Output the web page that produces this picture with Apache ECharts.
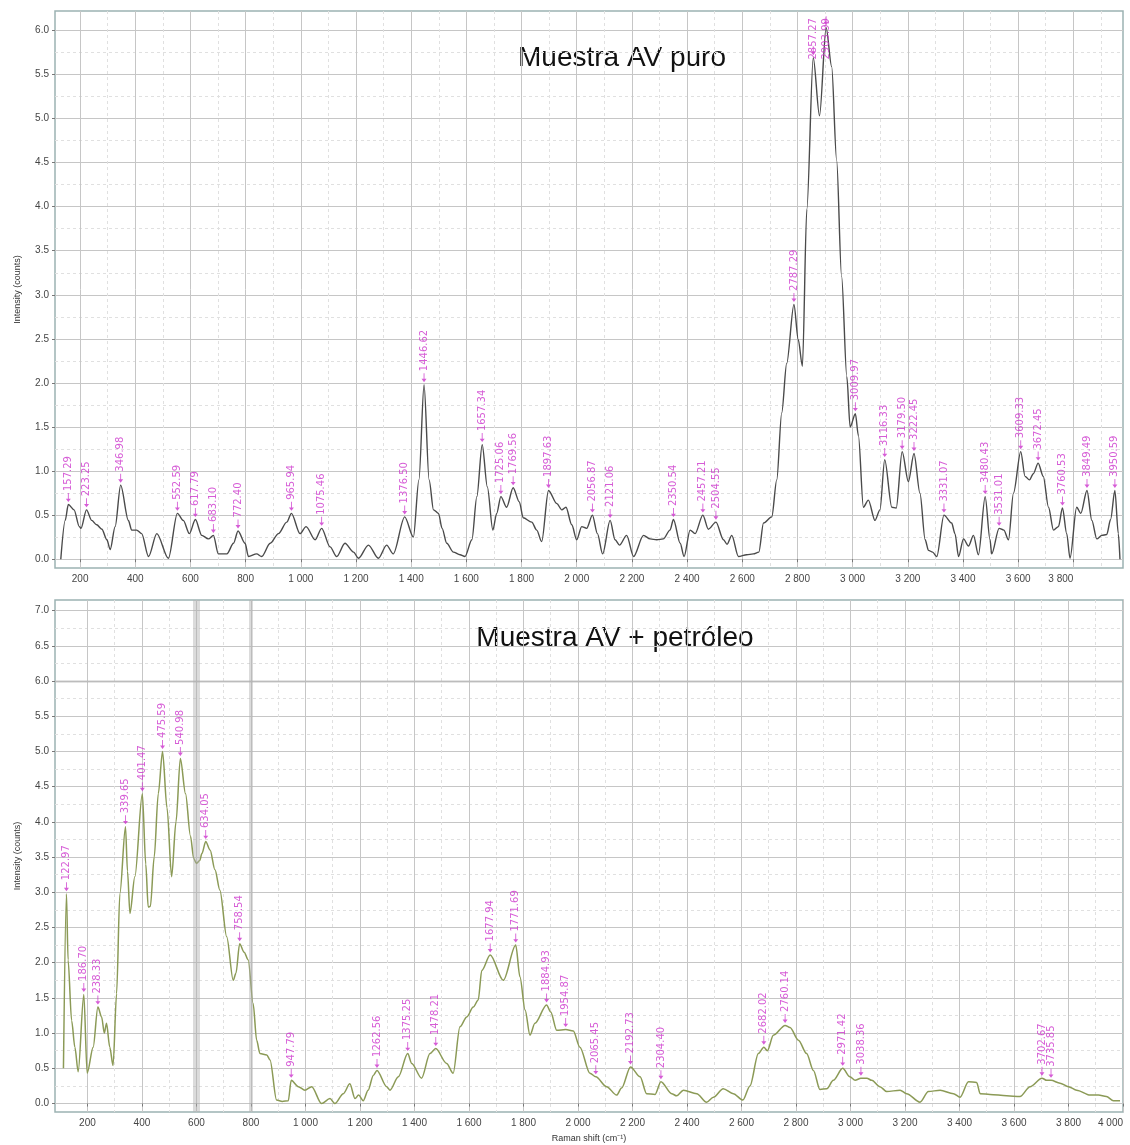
<!DOCTYPE html>
<html>
<head>
<meta charset="utf-8">
<script src="https://cdn.jsdelivr.net/npm/echarts@6/dist/echarts.min.js"></script>
<style>
  html, body { margin: 0; padding: 0; background: #ffffff; }
  #chart { width: 1130px; height: 1145px; }
</style>
</head>
<body>
<div id="chart"></div>
<script>
// Raman spectrum of the pure sample: shift (cm-1) and intensity (counts)
const puroShift = [
  130, 146, 157.29, 178, 197, 203, 223.25, 242, 260, 279,
  297, 309, 327, 346.98, 375, 387, 405, 423, 448, 478,
  520, 552.59, 574, 596, 617.79, 641, 665, 683.10, 701, 732,
  756, 772.40, 798, 810, 840, 858, 889, 919, 949, 965.94,
  997, 1019, 1052, 1075.46, 1106, 1130, 1160, 1191, 1209, 1245,
  1281, 1311, 1335, 1376.50, 1408, 1428, 1446.62, 1465, 1481, 1499,
  1512, 1529, 1553, 1577, 1595, 1620, 1638, 1657.34, 1676, 1696,
  1710, 1725.06, 1746, 1769.56, 1792, 1806, 1837, 1855, 1873, 1897.63,
  1928, 1946, 1961, 1982, 2000, 2018, 2036, 2056.87, 2075, 2094,
  2121.06, 2139, 2155, 2181, 2206, 2242, 2266, 2290, 2314, 2338,
  2350.54, 2375, 2389, 2411, 2429, 2457.21, 2477, 2504.55, 2532, 2545,
  2562, 2586, 2616, 2640, 2660, 2677, 2707, 2725, 2743, 2761,
  2787.29, 2803, 2818, 2834, 2857.27, 2880, 2903.99, 2924, 2942, 2960,
  2979, 2991, 3009.97, 3021, 3039, 3057, 3081, 3099, 3116.33, 3142,
  3158, 3179.50, 3202, 3222.45, 3244, 3263, 3275, 3290, 3305, 3331.07,
  3359, 3371, 3384, 3402, 3420, 3438, 3456, 3480.43, 3498, 3504,
  3531.01, 3548, 3565, 3583, 3609.33, 3625, 3641, 3655, 3672.45, 3691,
  3710, 3728, 3746, 3760.53, 3776, 3788, 3812, 3827, 3849.49, 3867,
  3885, 3903, 3921, 3935, 3950.59, 3963, 3969
];
const puroIntensity = [
  0.00, 0.44, 0.62, 0.56, 0.37, 0.35, 0.56, 0.44, 0.39, 0.34,
  0.22, 0.11, 0.37, 0.84, 0.44, 0.33, 0.33, 0.29, 0.03, 0.29,
  0.01, 0.52, 0.44, 0.29, 0.45, 0.27, 0.23, 0.27, 0.06, 0.06,
  0.18, 0.32, 0.18, 0.03, 0.06, 0.03, 0.18, 0.29, 0.42, 0.52,
  0.29, 0.37, 0.22, 0.35, 0.14, 0.03, 0.18, 0.08, 0.01, 0.16,
  0.01, 0.16, 0.06, 0.48, 0.25, 0.90, 1.98, 0.90, 0.56, 0.52,
  0.35, 0.18, 0.08, 0.05, 0.03, 0.22, 0.71, 1.30, 0.82, 0.33,
  0.52, 0.71, 0.59, 0.81, 0.65, 0.47, 0.42, 0.33, 0.20, 0.78,
  0.63, 0.56, 0.59, 0.39, 0.22, 0.37, 0.35, 0.50, 0.29, 0.06,
  0.44, 0.22, 0.16, 0.27, 0.03, 0.27, 0.23, 0.22, 0.23, 0.33,
  0.45, 0.18, 0.03, 0.33, 0.29, 0.50, 0.34, 0.42, 0.22, 0.17,
  0.27, 0.03, 0.05, 0.06, 0.08, 0.41, 0.48, 0.90, 1.66, 2.22,
  2.89, 2.49, 2.19, 3.97, 5.69, 5.03, 6.03, 5.59, 4.53, 3.21,
  2.07, 1.50, 1.65, 1.40, 0.59, 0.67, 0.44, 0.56, 1.13, 0.59,
  0.58, 1.22, 0.88, 1.20, 0.75, 0.22, 0.10, 0.08, 0.03, 0.50,
  0.41, 0.29, 0.03, 0.23, 0.15, 0.27, 0.05, 0.71, 0.22, 0.06,
  0.35, 0.33, 0.22, 0.75, 1.22, 0.94, 0.90, 0.97, 1.09, 0.94,
  0.59, 0.33, 0.37, 0.58, 0.29, 0.01, 0.59, 0.52, 0.78, 0.44,
  0.23, 0.27, 0.28, 0.45, 0.78, 0.29, 0.00
];
// Marked band positions (cm-1) of the pure sample
const puroPeaks = [
  157.29, 223.25, 346.98, 552.59, 617.79, 683.10, 772.40, 965.94, 1075.46,
  1376.50, 1446.62, 1657.34, 1725.06, 1769.56, 1897.63, 2056.87, 2121.06,
  2350.54, 2457.21, 2504.55, 2787.29, 2857.27, 2903.99, 3009.97, 3116.33,
  3179.50, 3222.45, 3331.07, 3480.43, 3531.01, 3609.33, 3672.45, 3760.53,
  3849.49, 3950.59
];

// Raman spectrum of the sample with petroleum
const petShift = [
  112, 122.97, 129, 142, 154, 166, 186.70, 199, 221, 238.33,
  252, 262, 270, 282, 294, 307, 319, 339.65, 347, 356,
  374, 401.47, 414, 423, 431, 445, 460, 475.59, 492, 509,
  525, 540.98, 560, 578, 590, 600, 612, 620, 634.05, 650,
  668, 686, 711, 735, 745, 758.54, 775, 790, 808, 821,
  833, 858, 870, 894, 915, 937, 947.79, 974, 998, 1023,
  1059, 1090, 1108, 1139, 1163, 1182, 1195, 1212, 1230, 1249,
  1262.56, 1298, 1310, 1341, 1375.25, 1390, 1426, 1457, 1478.21, 1518,
  1542, 1567, 1592, 1616, 1634, 1647, 1677.94, 1726, 1771.69, 1787,
  1806, 1824, 1842, 1884.93, 1900, 1922, 1954.87, 1983, 2007, 2044,
  2065.45, 2105, 2142, 2160, 2192.73, 2228, 2252, 2283, 2304.40, 2344,
  2362, 2387, 2436, 2472, 2497, 2533, 2570, 2605, 2631, 2662,
  2682.02, 2695, 2717, 2760.14, 2778, 2809, 2839, 2864, 2888, 2913,
  2937, 2971.42, 2998, 3017, 3038.36, 3060, 3078, 3108, 3133, 3182,
  3206, 3255, 3286, 3329, 3378, 3402, 3433, 3463, 3476, 3512,
  3573, 3622, 3659, 3702.67, 3720, 3735.85, 3769, 3800, 3830, 3879,
  3910, 3939, 3965, 3989
];
const petIntensity = [
  0.50, 2.98, 2.04, 1.18, 0.80, 0.45, 1.55, 0.43, 0.80, 1.37,
  1.23, 1.00, 1.14, 0.80, 0.54, 1.56, 2.98, 3.93, 3.30, 2.70,
  3.22, 4.40, 3.40, 2.79, 2.80, 3.50, 4.40, 5.00, 4.20, 3.22,
  4.00, 4.90, 4.40, 3.80, 3.48, 3.41, 3.45, 3.55, 3.72, 3.60,
  3.32, 3.03, 2.37, 1.75, 1.85, 2.27, 2.15, 2.04, 1.42, 0.90,
  0.71, 0.69, 0.62, 0.05, 0.03, 0.04, 0.33, 0.24, 0.19, 0.24,
  0.00, 0.07, 0.00, 0.14, 0.28, 0.07, 0.12, 0.04, 0.19, 0.40,
  0.47, 0.24, 0.19, 0.38, 0.71, 0.57, 0.36, 0.71, 0.78, 0.57,
  0.43, 1.09, 1.23, 1.37, 1.47, 1.89, 2.11, 1.75, 2.25, 1.80,
  1.33, 0.97, 1.14, 1.40, 1.30, 1.04, 1.05, 1.03, 0.80, 0.43,
  0.38, 0.24, 0.12, 0.22, 0.52, 0.38, 0.14, 0.13, 0.31, 0.14,
  0.11, 0.19, 0.14, 0.02, 0.09, 0.21, 0.14, 0.05, 0.25, 0.71,
  0.80, 0.75, 0.97, 1.11, 1.08, 0.90, 0.71, 0.47, 0.20, 0.21,
  0.33, 0.50, 0.38, 0.33, 0.36, 0.36, 0.33, 0.24, 0.17, 0.19,
  0.14, 0.02, 0.17, 0.19, 0.14, 0.09, 0.31, 0.30, 0.14, 0.13,
  0.11, 0.10, 0.24, 0.36, 0.33, 0.33, 0.29, 0.24, 0.19, 0.12,
  0.12, 0.10, 0.04, 0.04
];
const petPeaks = [
  122.97, 186.70, 238.33, 339.65, 401.47, 475.59, 540.98, 634.05, 758.54,
  947.79, 1262.56, 1375.25, 1478.21, 1677.94, 1771.69, 1884.93, 1954.87,
  2065.45, 2192.73, 2304.40, 2682.02, 2760.14, 2971.42, 3038.36, 3702.67,
  3735.85
];

// Axis ticks
const puroXTicks = [200, 400, 600, 800, 1000, 1200, 1400, 1600, 1800, 2000, 2200, 2400, 2600, 2800, 3000, 3200, 3400, 3600, 3800];
const puroXMinor = [300, 500, 700, 900, 1100, 1300, 1500, 1700, 1900, 2100, 2300, 2500, 2700, 2900, 3100, 3300, 3500, 3700, 3900];
const puroYTicks = [0, 0.5, 1, 1.5, 2, 2.5, 3, 3.5, 4, 4.5, 5, 5.5, 6];
const puroYMinor = [0.25, 0.75, 1.25, 1.75, 2.25, 2.75, 3.25, 3.75, 4.25, 4.75, 5.25, 5.75];
const petXTicks = [200, 400, 600, 800, 1000, 1200, 1400, 1600, 1800, 2000, 2200, 2400, 2600, 2800, 3000, 3200, 3400, 3600, 3800, 4000];
const petXMinor = [300, 500, 700, 900, 1100, 1300, 1500, 1700, 1900, 2100, 2300, 2500, 2700, 2900, 3100, 3300, 3500, 3700, 3900];
const petYTicks = [0, 0.5, 1, 1.5, 2, 2.5, 3, 3.5, 4, 4.5, 5, 5.5, 6, 6.5, 7];
const petYMinor = [0.25, 0.75, 1.25, 1.75, 2.25, 2.75, 3.25, 3.75, 4.25, 4.75, 5.25, 5.75, 6.25, 6.75];
// Reference lines drawn as grey bands in the lower panel
const petBandsX = [600, 800];
const petBandsY = [6];

const TITLE_PURO = 'Muestra AV puro';
const TITLE_PET = 'Muestra AV + petróleo';
const Y_NAME = 'Intensity (counts)';
const X_NAME = 'Raman shift (cm\u207B\u00B9)';

// ---- layout ----
const GRID_PURO = { left: 55, right: 7, top: 11, height: 557 };
const GRID_PET = { left: 55, right: 7, top: 600, height: 512 };
const RANGE_PURO_X = [109, 3980], RANGE_PURO_Y = [-0.1, 6.22];
const RANGE_PET_X = [81, 4000], RANGE_PET_Y = [-0.12, 7.15];

const LABEL_COLOR = '#cc33cc';
const LABEL_LEN = 46;     // approximate length of a rotated peak label
const ARROW = 'path://M4.3,0 L5.7,0 L5.7,10 L9,10 L5,16 L1,10 L4.3,10 Z';

const thousands = v => v >= 1000
  ? Math.floor(v / 1000) + ' ' + String(Math.round(v % 1000)).padStart(3, '0')
  : String(v);

const pairs = (xs, ys) => xs.map((x, i) => [x, ys[i]]);

// Peak markers; labels that would leave the plot are pulled back down inside it
function peakItems(peaks, xs, ys, grid, yr) {
  return peaks.map(p => {
    const y = ys[xs.indexOf(p)];
    const py = grid.top + (yr[1] - y) / (yr[1] - yr[0]) * grid.height;
    const labelTop = py - 14 - LABEL_LEN;
    const shift = Math.max(0, grid.top + 2 - labelTop);
    const item = { value: [p, y] };
    // the label is rotated 90 degrees, so its local -x points down the page
    if (shift > 0) item.label = { offset: [-shift, 0] };
    return item;
  });
}

const tickLabelStyle = { color: '#454545', fontSize: 10, fontFamily: 'Liberation Sans' };
const nameStyle = { color: '#333', fontSize: 9, fontFamily: 'Liberation Sans' };

function mainXAxis(gi, range, ticks, withName) {
  return {
    type: 'value', gridIndex: gi, min: range[0], max: range[1],
    axisLine: { show: false },
    axisTick: { show: true, customValues: ticks, length: 3, lineStyle: { color: '#777' } },
    axisLabel: Object.assign({ customValues: ticks, formatter: thousands, margin: 6, alignMaxLabel: 'right' }, tickLabelStyle),
    splitLine: { show: true, lineStyle: { color: '#c6c6c6', width: 1 } },
    name: withName ? X_NAME : '', nameLocation: 'middle', nameGap: 22, nameTextStyle: nameStyle
  };
}
function minorXAxis(gi, range, ticks) {
  return {
    type: 'value', gridIndex: gi, min: range[0], max: range[1], position: 'bottom',
    axisLine: { show: false }, axisLabel: { show: false },
    axisTick: { show: false, customValues: ticks },
    splitLine: { show: true, lineStyle: { color: '#e0e0e0', width: 1, type: [3, 3] } }
  };
}
function mainYAxis(gi, range, ticks) {
  return {
    type: 'value', gridIndex: gi, min: range[0], max: range[1],
    axisLine: { show: false },
    axisTick: { show: true, customValues: ticks, length: 3, lineStyle: { color: '#777' } },
    axisLabel: Object.assign({ customValues: ticks, formatter: v => v.toFixed(1), margin: 6 }, tickLabelStyle),
    splitLine: { show: true, lineStyle: { color: '#c6c6c6', width: 1 } },
    name: Y_NAME, nameLocation: 'middle', nameGap: 33, nameRotate: 90, nameTextStyle: nameStyle
  };
}
function minorYAxis(gi, range, ticks) {
  return {
    type: 'value', gridIndex: gi, min: range[0], max: range[1], position: 'left',
    axisLine: { show: false }, axisLabel: { show: false },
    axisTick: { show: false, customValues: ticks },
    splitLine: { show: true, lineStyle: { color: '#e0e0e0', width: 1, type: [3, 3] } }
  };
}

function peakSeries(xi, items) {
  return {
    type: 'scatter', xAxisIndex: xi, yAxisIndex: xi, z: 5, silent: true,
    symbol: ARROW, symbolSize: [5, 9], symbolOffset: [0, -7],
    itemStyle: { color: LABEL_COLOR },
    label: {
      show: true, position: 'top', distance: 2, rotate: 90,
      align: 'left', verticalAlign: 'middle',
      formatter: p => p.value[0].toFixed(2),
      color: LABEL_COLOR, fontSize: 10, fontFamily: 'DejaVu Sans'
    },
    data: items
  };
}

const gridFrame = { show: true, borderColor: '#9cb2b2', borderWidth: 1.5, backgroundColor: '#ffffff' };
const bandStyle = w => ({ color: 'rgba(175,175,175,0.45)', width: w, type: 'solid' });

const option = {
  animation: false,
  backgroundColor: '#ffffff',
  grid: [
    Object.assign({}, GRID_PURO, gridFrame),
    Object.assign({}, GRID_PET, gridFrame)
  ],
  xAxis: [
    mainXAxis(0, RANGE_PURO_X, puroXTicks, false),
    minorXAxis(0, RANGE_PURO_X, puroXMinor),
    mainXAxis(1, RANGE_PET_X, petXTicks, true),
    minorXAxis(1, RANGE_PET_X, petXMinor)
  ],
  yAxis: [
    mainYAxis(0, RANGE_PURO_Y, puroYTicks),
    minorYAxis(0, RANGE_PURO_Y, puroYMinor),
    mainYAxis(1, RANGE_PET_Y, petYTicks),
    minorYAxis(1, RANGE_PET_Y, petYMinor)
  ],
  graphic: [
    { type: 'text', x: 622, y: 58, silent: true,
      style: { text: TITLE_PURO, fontSize: 28, fontFamily: 'Liberation Sans', fill: '#111', align: 'center', verticalAlign: 'middle' } },
    { type: 'text', x: 615, y: 638, silent: true,
      style: { text: TITLE_PET, fontSize: 28, fontFamily: 'Liberation Sans', fill: '#111', align: 'center', verticalAlign: 'middle' } }
  ],
  series: [
    {
      type: 'line', xAxisIndex: 0, yAxisIndex: 0, z: 3, silent: true,
      data: pairs(puroShift, puroIntensity),
      symbol: 'none', smooth: 0.3, smoothMonotone: 'x',
      lineStyle: { color: '#4a4a4a', width: 1.4 }
    },
    peakSeries(0, peakItems(puroPeaks, puroShift, puroIntensity, GRID_PURO, RANGE_PURO_Y)),
    {
      type: 'line', xAxisIndex: 2, yAxisIndex: 2, z: 1, silent: true, data: [],
      markLine: {
        silent: true, symbol: 'none', label: { show: false },
        data: petBandsX.map((b, i) => ({ xAxis: b, lineStyle: bandStyle(i === 0 ? 7 : 4) }))
          .concat(petBandsY.map(b => ({ yAxis: b, lineStyle: bandStyle(2.5) })))
      }
    },
    {
      type: 'line', xAxisIndex: 2, yAxisIndex: 2, z: 3, silent: true,
      data: pairs(petShift, petIntensity),
      symbol: 'none', smooth: 0.3, smoothMonotone: 'x',
      lineStyle: { color: '#8b9a56', width: 1.5 }
    },
    peakSeries(2, peakItems(petPeaks, petShift, petIntensity, GRID_PET, RANGE_PET_Y))
  ]
};

const chart = echarts.init(document.getElementById('chart'));
chart.setOption(option);
</script>
</body>
</html>
